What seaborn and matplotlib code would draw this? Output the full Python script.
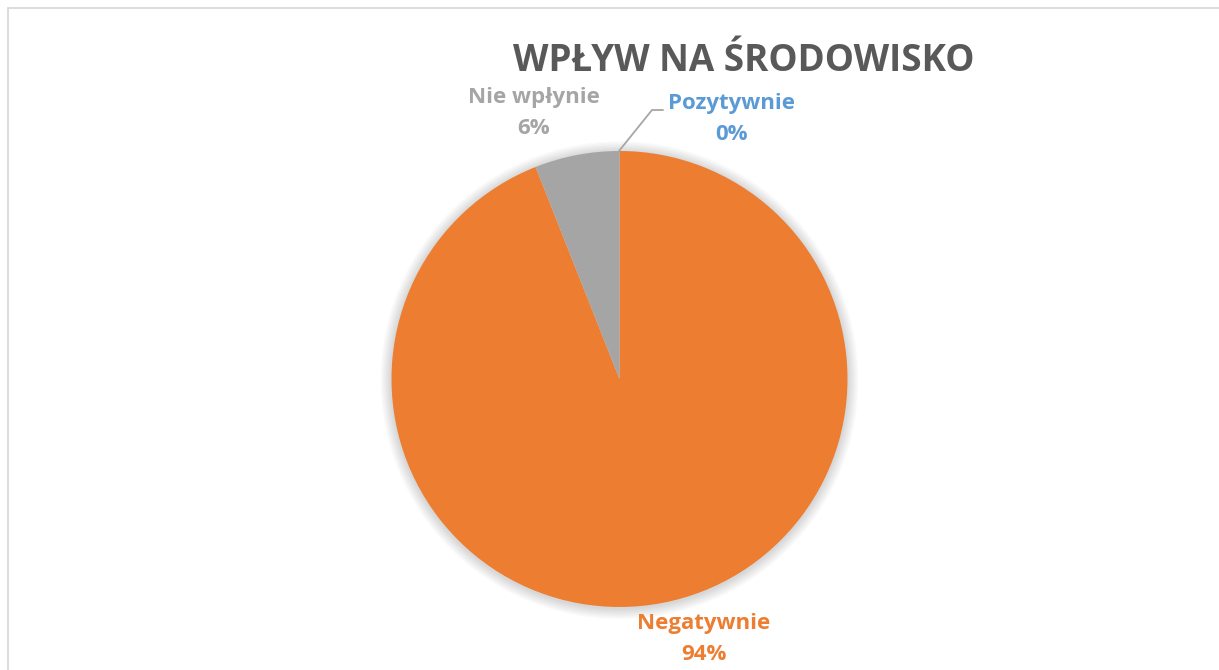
import matplotlib
matplotlib.use("Agg")
import matplotlib.pyplot as plt
import seaborn as sns
from matplotlib.patches import Circle, Rectangle

# data
labels = ["Pozytywnie", "Negatywnie", "Nie wpłynie"]
values = [0.0001, 94, 6]
pct_text = ["0%", "94%", "6%"]
colors = ["#5B9BD5", "#ED7D31", "#A5A5A5"]
title = "WPŁYW NA ŚRODOWISKO"

sns.set_theme(style="white")
plt.rcParams["font.family"] = ["Open Sans", "DejaVu Sans"]

W, H = 1219, 670
fig = plt.figure(figsize=(W / 100, H / 100), dpi=100)
fig.patch.set_facecolor("white")

# chart frame (extends past right/bottom edges)
fig.patches.append(Rectangle((8 / W, -0.1), 1.2, 1 - 8 / H + 0.1, transform=fig.transFigure,
                             fill=False, edgecolor="#D9D9D9", linewidth=1.3))

cx, cy, r = 619.5, 379, 228
ax = fig.add_axes([(cx - r) / W, (H - cy - r) / H, 2 * r / W, 2 * r / H])
ax.set_xlim(-1, 1)
ax.set_ylim(-1, 1)
ax.set_aspect("equal")
ax.axis("off")

# soft shadow behind pie
for i in range(8):
    ax.add_patch(Circle((0.0, -0.005), 1 + 0.006 * (i + 1), facecolor="black",
                        edgecolor="none", alpha=0.018, zorder=0, clip_on=False))

ax.pie(values, colors=colors, startangle=90, counterclock=False, radius=1,
       wedgeprops=dict(linewidth=0, zorder=2))
ax.set_xlim(-1, 1)
ax.set_ylim(-1, 1)

def px(x, y):
    return ((x - cx) / r, (cy - y) / r)

label_pos = {"Pozytywnie": (731, 103, 134), "Negatywnie": (704, 623, 655), "Nie wpłynie": (534, 98, 128)}
for lab, pct, col in zip(labels, pct_text, colors):
    x, y1, y2 = label_pos[lab]
    ax.text(*px(x, y1), lab, color=col, fontsize=16, fontweight="bold",
            ha="center", va="center", clip_on=False)
    ax.text(*px(x, y2), pct, color=col, fontsize=16, fontweight="bold",
            ha="center", va="center", clip_on=False)

# leader line for the 0% slice
lx = [px(619, 151)[0], px(652, 110)[0], px(663, 110)[0]]
ly = [px(619, 151)[1], px(652, 110)[1], px(663, 110)[1]]
ax.plot(lx, ly, color="#A6A6A6", linewidth=1.3, clip_on=False, zorder=3)

fig.text(744 / W, 1 - 61 / H, title, ha="center", va="center", fontsize=26.5,
         fontweight="bold", color="#595959")

fig.savefig("out.png", dpi=100, facecolor="white")
